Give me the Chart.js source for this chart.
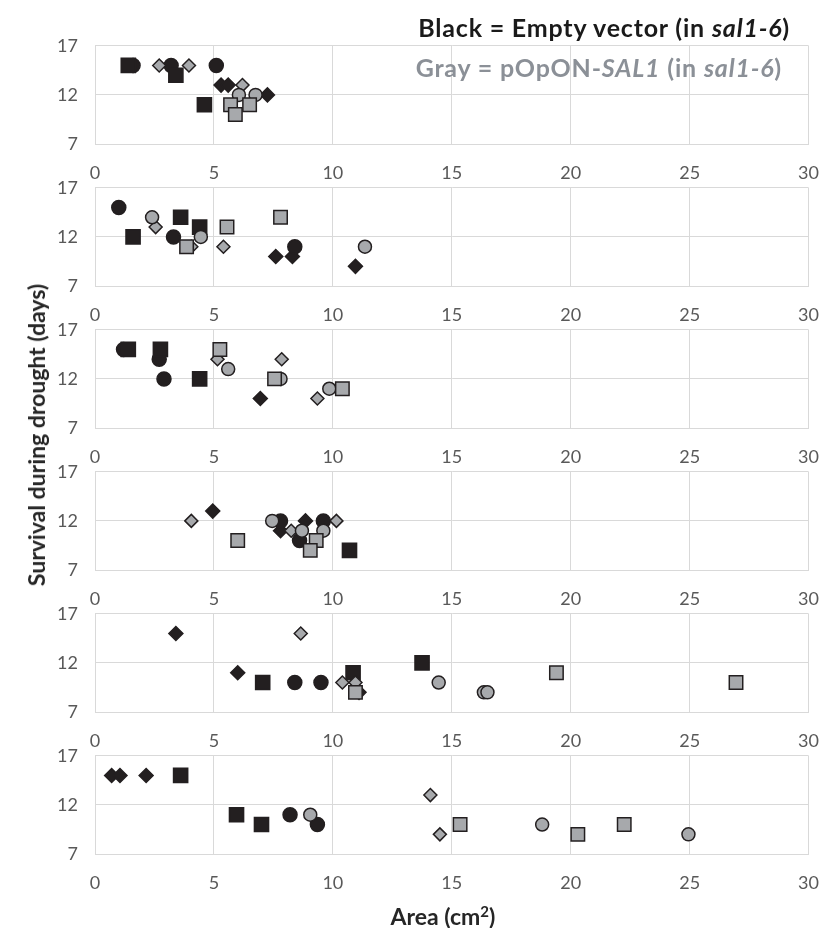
<!DOCTYPE html>
<html>
<head>
<meta charset="utf-8">
<script src="https://cdn.jsdelivr.net/npm/chart.js@4"></script>
<style>
  body { margin: 0; background: #fff; width: 837px; height: 928px; position: relative; overflow: hidden; font-family: Lato, sans-serif; }
  .panel { position: absolute; left: 0; width: 837px; height: 176px; }
  .note { position: absolute; right: 47px; font-weight: bold; font-size: 25px; letter-spacing: 0.8px; white-space: nowrap; line-height: 30px; }
  #ytitle { position: absolute; left: 36px; top: 435px; transform: translate(-50%, -50%) rotate(-90deg); font-weight: bold; font-size: 23px; color: #262626; white-space: nowrap; }
  #xtitle { position: absolute; left: 443px; top: 916px; transform: translate(-50%, -50%); font-weight: bold; font-size: 23px; color: #262626; white-space: nowrap; }
</style>
</head>
<body>
<div id="panels"></div>
<div class="note" style="top:12px;color:#1a1a1a">Black = Empty vector (in <i>sal1-6</i>)</div>
<div class="note" style="top:52px;right:55px;color:#8b9097">Gray = pOpON-<i>SAL1</i> (in <i>sal1-6</i>)</div>
<div id="ytitle">Survival during drought (days)</div>
<div id="xtitle">Area (cm<sup style="font-size:15px;vertical-align:8px">2</sup>)</div>
<script>
// tick labels
const xTicks = [0, 5, 10, 15, 20, 25, 30];
const yTicks = [7, 12, 17];

// one list per panel (top to bottom), points as [area, days]
const blackCircle = [
  [[1.6, 15], [3.2, 15], [5.1, 15]],
  [[1.0, 15], [3.3, 12], [8.4, 11]],
  [[1.2, 15], [2.7, 14], [2.9, 12]],
  [[7.8, 12], [8.6, 10], [9.6, 12]],
  [[8.4, 10], [9.5, 10]],
  [[8.2, 11], [9.35, 10]]
];
const blackSquare = [
  [[1.4, 15], [3.4, 14], [4.6, 11]],
  [[1.6, 12], [3.6, 14], [4.4, 13]],
  [[1.4, 15], [2.75, 15], [4.4, 12]],
  [[10.7, 9]],
  [[7.05, 10], [10.85, 11], [13.75, 12]],
  [[3.6, 15], [5.95, 11], [7.0, 10]]
];
const blackDiamond = [
  [[5.3, 13], [5.6, 13], [7.25, 12]],
  [[7.6, 10], [8.3, 10], [10.95, 9]],
  [[6.95, 10]],
  [[4.95, 13], [7.8, 11], [8.85, 12]],
  [[3.4, 15], [6.0, 11], [11.1, 9]],
  [[0.7, 15], [1.05, 15], [2.15, 15]]
];
const grayCircle = [
  [[6.05, 12], [6.75, 12]],
  [[2.4, 14], [4.45, 12], [11.35, 11]],
  [[5.6, 13], [7.8, 12], [9.85, 11]],
  [[7.45, 12], [8.7, 11], [9.6, 11]],
  [[14.45, 10], [16.35, 9], [16.5, 9]],
  [[9.05, 11], [18.8, 10], [24.95, 9]]
];
const graySquare = [
  [[5.7, 11], [6.5, 11], [5.9, 10]],
  [[3.85, 11], [5.55, 13], [7.8, 14]],
  [[5.25, 15], [7.55, 12], [10.4, 11]],
  [[6.0, 10], [9.3, 10], [9.05, 9]],
  [[10.95, 9], [19.4, 11], [26.95, 10]],
  [[15.35, 10], [20.3, 9], [22.25, 10]]
];
const grayDiamond = [
  [[2.7, 15], [3.95, 15], [6.2, 13]],
  [[2.55, 13], [4.05, 11], [5.4, 11]],
  [[5.15, 14], [7.85, 14], [9.35, 10]],
  [[4.05, 12], [8.25, 11], [10.15, 12]],
  [[8.65, 15], [10.4, 10], [10.95, 10]],
  [[14.1, 13], [14.5, 9]]
];

const BLACK = '#231f20';
const GRAY = '#a7a9ac';
const GRID = '#d9d9d9';
const TICK = '#595959';

// lower order = drawn on top
const series = [
  { pts: blackDiamond, style: 'rectRot', r: 7, bg: BLACK, order: 6 },
  { pts: blackCircle, style: 'circle', r: 7, bg: BLACK, order: 5 },
  { pts: blackSquare, style: 'rect', r: 10, bg: BLACK, order: 4 },
  { pts: grayDiamond, style: 'rectRot', r: 6.5, bg: GRAY, order: 3 },
  { pts: grayCircle, style: 'circle', r: 6.5, bg: GRAY, order: 2 },
  { pts: graySquare, style: 'rect', r: 9.5, bg: GRAY, order: 1 }
];

const tickFont = { family: 'Lato', size: 18 };
const holder = document.getElementById('panels');

for (let k = 0; k < 6; k++) {
  const div = document.createElement('div');
  div.className = 'panel';
  div.style.top = (18 + 142 * k) + 'px';
  const cv = document.createElement('canvas');
  cv.width = 837;
  cv.height = 176;
  div.appendChild(cv);
  holder.appendChild(div);

  new Chart(cv.getContext('2d'), {
    type: 'scatter',
    data: {
      datasets: series.map(s => ({
        data: s.pts[k].map(p => ({ x: p[0], y: p[1] })),
        pointStyle: s.style,
        pointRadius: s.r,
        pointHoverRadius: s.r,
        backgroundColor: s.bg,
        borderColor: BLACK,
        borderWidth: 1.5,
        order: s.order
      }))
    },
    options: {
      responsive: false,
      animation: false,
      devicePixelRatio: 1,
      layout: { padding: { top: 10, right: 22, left: 0, bottom: 0 } },
      plugins: { legend: { display: false }, tooltip: { enabled: false } },
      scales: {
        x: {
          type: 'linear', min: 0, max: 30,
          afterBuildTicks: a => { a.ticks = xTicks.map(v => ({ value: v })); },
          afterFit: a => { a.height = 50; },
          grid: { color: GRID, drawTicks: false },
          border: { color: GRID },
          ticks: { color: TICK, font: tickFont, padding: 18 }
        },
        y: {
          min: 7, max: 17,
          afterBuildTicks: a => { a.ticks = yTicks.map(v => ({ value: v })); },
          afterFit: a => { a.width = 95; },
          grid: { color: GRID, drawTicks: false },
          border: { color: GRID },
          ticks: { color: TICK, font: tickFont, padding: 17 }
        }
      }
    }
  });
}
</script>
</body>
</html>
